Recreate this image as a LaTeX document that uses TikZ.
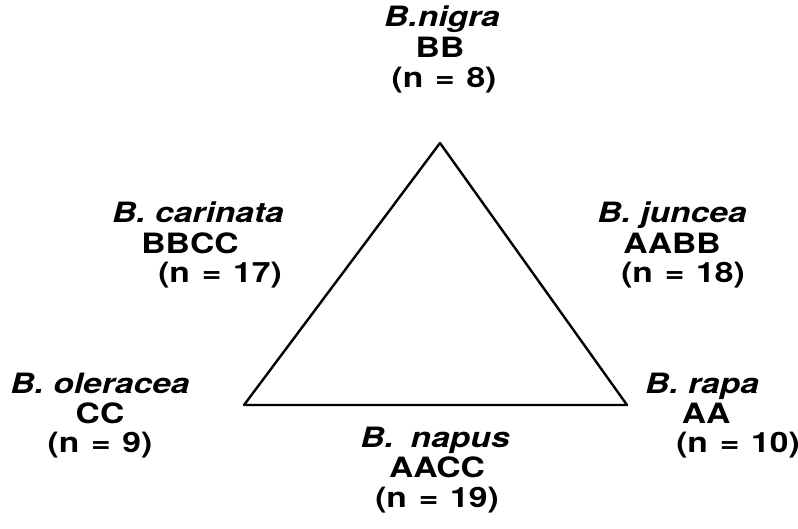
\documentclass[tikz,border=0pt]{standalone}
\usepackage{fontspec}
\setmainfont{TeX Gyre Heros}[FakeStretch=1.2]
\newcommand{\chrom}[1]{(n\hspace{.42em}=\hspace{.42em}#1)}
\begin{document}
\begin{tikzpicture}[x=0.75pt, y=-0.75pt,
  spname/.style={anchor=base, inner sep=0pt, font=\fontsize{21}{25}\selectfont\bfseries\itshape},
  genome/.style={anchor=base, inner sep=0pt, font=\fontsize{21}{25}\selectfont\bfseries}]
  \useasboundingbox (0,0) rectangle (798,528);
  \coordinate (nig) at (440,143);
  \coordinate (ole) at (244,405);
  \coordinate (rap) at (627,405);

  \draw[line width=1.8pt, line join=round] (nig) -- (ole) -- (rap) -- cycle;

  % B. nigra
  \node[spname] (nigname) at (442,27) {B.nigra};
  \node[genome] (niggen) at (440,57) {BB};
  \node[genome] (nigchr) at (444,87) {\chrom{8}};
  % B. carinata
  \node[spname] (carname) at (198,222) {B. carinata};
  \node[genome] (cargen) at (190,253) {BBCC};
  \node[genome] (carchr) at (220,282) {\chrom{17}};
  % B. juncea
  \node[spname] (junname) at (672,222) {B. juncea};
  \node[genome] (jungen) at (672,253) {AABB};
  \node[genome] (junchr) at (683,282) {\chrom{18}};
  % B. oleracea
  \node[spname] (olename) at (100,393) {B. oleracea};
  \node[genome] (olegen) at (100,423) {CC};
  \node[genome] (olechr) at (100,452) {\chrom{9}};
  % B. napus
  \node[spname] (napname) at (435,447) {B.\hspace{.6em}napus};
  \node[genome] (napgen) at (437,477) {AACC};
  \node[genome] (napchr) at (437,507) {\chrom{19}};
  % B. rapa
  \node[spname] (rapname) at (702,393) {B. rapa};
  \node[genome] (rapgen) at (706,423) {AA};
  \node[genome] (rapchr) at (738,452) {\chrom{10}};
\end{tikzpicture}
\end{document}
